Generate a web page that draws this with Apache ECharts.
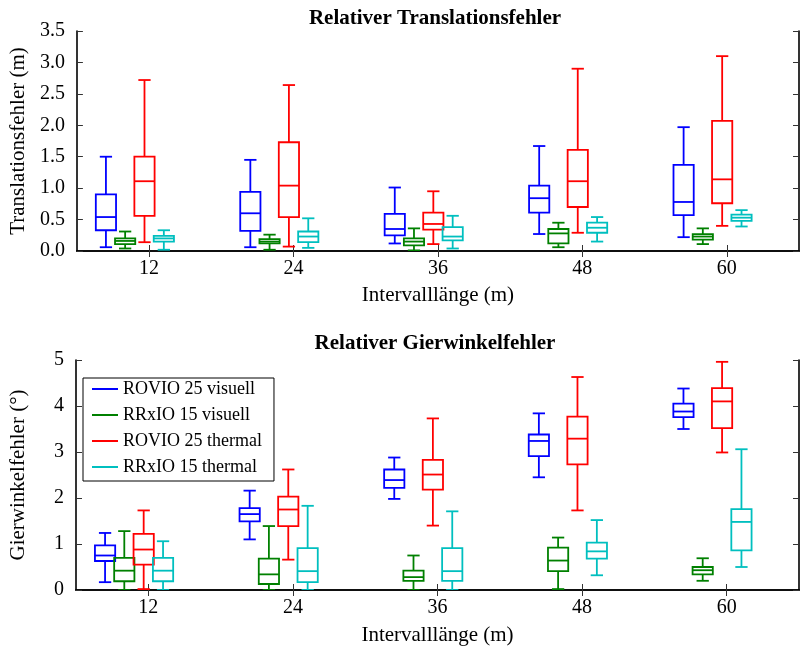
<!DOCTYPE html>
<html>
<head>
<meta charset="utf-8">
<script src="https://cdn.jsdelivr.net/npm/echarts@6/dist/echarts.min.js"></script>
<style>
html,body{margin:0;padding:0;background:#fff;}
#chart{width:801px;height:647px;}
</style>
</head>
<body>
<div id="chart"></div>
<script>
// ---- Data ----
const categories = ['12', '24', '36', '48', '60'];
const seriesNames = ['ROVIO 25 visuell', 'RRxIO 15 visuell', 'ROVIO 25 thermal', 'RRxIO 15 thermal'];
const seriesColors = ['#0000ff', '#008000', '#ff0000', '#00bfbf'];
const titleTop = 'Relativer Translationsfehler';
const titleBottom = 'Relativer Gierwinkelfehler';
const xAxisName = 'Intervalllänge (m)';
const yNameTop = 'Translationsfehler (m)';
const yNameBottom = 'Gierwinkelfehler (°)';

// [min, q1, median, q3, max] per category
const transRovioVis = [[0.06,0.33,0.54,0.90,1.50],[0.06,0.32,0.60,0.94,1.45],[0.12,0.25,0.35,0.59,1.01],[0.27,0.61,0.84,1.04,1.67],[0.22,0.57,0.78,1.37,1.97]];
const transRrxioVis = [[0.04,0.11,0.16,0.20,0.31],[0.02,0.12,0.15,0.19,0.26],[0.01,0.09,0.15,0.20,0.36],[0.06,0.12,0.28,0.35,0.45],[0.11,0.18,0.23,0.27,0.36]];
const transRovioTh = [[0.14,0.56,1.11,1.50,2.72],[0.07,0.54,1.04,1.73,2.64],[0.11,0.34,0.43,0.61,0.95],[0.29,0.70,1.11,1.61,2.90],[0.40,0.76,1.14,2.07,3.10]];
const transRrxioTh = [[0.02,0.15,0.20,0.24,0.33],[0.05,0.14,0.23,0.31,0.52],[0.04,0.17,0.23,0.38,0.56],[0.15,0.29,0.37,0.45,0.54],[0.39,0.48,0.53,0.58,0.65]];

const yawRovioVis = [[0.17,0.63,0.75,0.97,1.24],[1.10,1.49,1.65,1.78,2.16],[1.98,2.22,2.39,2.62,2.88],[2.45,2.91,3.24,3.38,3.84],[3.50,3.76,3.88,4.05,4.38]];
const yawRrxioVis = [[0.00,0.19,0.42,0.70,1.28],[0.00,0.13,0.34,0.68,1.39],[0.00,0.20,0.28,0.42,0.75],[0.02,0.41,0.64,0.92,1.14],[0.20,0.34,0.43,0.50,0.69]];
const yawRovioTh = [[0.02,0.55,0.88,1.22,1.73],[0.66,1.39,1.75,2.03,2.62],[1.40,2.18,2.51,2.83,3.73],[1.73,2.73,3.29,3.77,4.63],[2.99,3.52,4.10,4.39,4.96]];
const yawRrxioTh = [[0.00,0.19,0.42,0.70,1.06],[0.00,0.17,0.41,0.91,1.83],[0.00,0.20,0.41,0.91,1.71],[0.32,0.68,0.84,1.03,1.52],[0.50,0.86,1.48,1.76,3.06]];

const topTicks = { min: 0, max: 3.5, interval: 0.5 };
const bottomTicks = { min: 0, max: 5, interval: 1 };

// ---- Styling ----
const FONT = 'Liberation Serif';
const offsets = [-0.299, -0.166, -0.032, 0.102]; // fraction of band width
const boxFrac = 0.14;
const capFrac = 0.085;
const LW = 1.8;

function makeRender(offsetFrac, color) {
  return function (params, api) {
    const cat = api.value(0);
    const band = api.size([1, 0])[0];
    const cx = api.coord([cat, 0])[0] + offsetFrac * band;
    const yMin = api.coord([cat, api.value(1)])[1];
    const yQ1 = api.coord([cat, api.value(2)])[1];
    const yMed = api.coord([cat, api.value(3)])[1];
    const yQ3 = api.coord([cat, api.value(4)])[1];
    const yMax = api.coord([cat, api.value(5)])[1];
    const hw = boxFrac * band / 2;
    const cw = capFrac * band / 2;
    const st = { stroke: color, lineWidth: LW, fill: null };
    return {
      type: 'group',
      children: [
        { type: 'line', shape: { x1: cx, y1: yQ3, x2: cx, y2: yMax }, style: st },
        { type: 'line', shape: { x1: cx, y1: yQ1, x2: cx, y2: yMin }, style: st },
        { type: 'line', shape: { x1: cx - cw, y1: yMax, x2: cx + cw, y2: yMax }, style: st },
        { type: 'line', shape: { x1: cx - cw, y1: yMin, x2: cx + cw, y2: yMin }, style: st },
        { type: 'rect', shape: { x: cx - hw, y: yQ3, width: 2 * hw, height: yQ1 - yQ3 }, style: { stroke: color, lineWidth: LW, fill: 'rgba(255,255,255,0)' } },
        { type: 'line', shape: { x1: cx - hw, y1: yMed, x2: cx + hw, y2: yMed }, style: st }
      ]
    };
  };
}

function toData(arr) {
  return arr.map((v, i) => [i].concat(v));
}

const axisLineStyle = { show: true, lineStyle: { color: '#000', width: 1.6 } };
const tickStyle = { show: true, inside: true, length: 6, lineStyle: { color: '#333', width: 1 } };
const labelFont = { fontFamily: FONT, fontSize: 20, color: '#000' };
const nameFont = { fontFamily: FONT, fontSize: 21, color: '#000' };

function xAxesFor(gridIndex, gap) {
  return [
    {
      type: 'category', gridIndex, data: categories, position: 'bottom',
      boundaryGap: true,
      axisLine: axisLineStyle,
      axisTick: Object.assign({ alignWithLabel: true }, tickStyle),
      axisLabel: Object.assign({ margin: 8 }, labelFont),
      name: xAxisName, nameLocation: 'middle', nameGap: gap, nameTextStyle: nameFont,
      splitLine: { show: false }
    },
    {
      type: 'category', gridIndex, data: categories, position: 'top',
      boundaryGap: true,
      axisLine: axisLineStyle,
      axisTick: Object.assign({ alignWithLabel: true }, tickStyle),
      axisLabel: { show: false },
      splitLine: { show: false }
    }
  ];
}

function yAxesFor(gridIndex, ticks, name, digits) {
  return [
    {
      type: 'value', gridIndex, position: 'left',
      min: ticks.min, max: ticks.max, interval: ticks.interval,
      axisLine: axisLineStyle,
      axisTick: tickStyle,
      axisLabel: Object.assign({ margin: 12, formatter: v => v.toFixed(digits) }, labelFont),
      splitLine: { show: false },
      name, nameLocation: 'middle', nameGap: 47, nameRotate: 90, nameTextStyle: nameFont
    },
    {
      type: 'value', gridIndex, position: 'right',
      min: ticks.min, max: ticks.max, interval: ticks.interval,
      axisLine: axisLineStyle,
      axisTick: tickStyle,
      axisLabel: { show: false },
      splitLine: { show: false }
    }
  ];
}

const topSets = [transRovioVis, transRrxioVis, transRovioTh, transRrxioTh];
const bottomSets = [yawRovioVis, yawRrxioVis, yawRovioTh, yawRrxioTh];

const series = [];
topSets.forEach((d, i) => {
  series.push({
    type: 'custom', name: seriesNames[i], xAxisIndex: 0, yAxisIndex: 0,
    itemStyle: { color: seriesColors[i] },
    renderItem: makeRender(offsets[i], seriesColors[i]),
    encode: { x: 0, y: [1, 2, 3, 4, 5] },
    data: toData(d), clip: true, silent: true
  });
});
bottomSets.forEach((d, i) => {
  series.push({
    type: 'custom', name: seriesNames[i], xAxisIndex: 2, yAxisIndex: 2,
    itemStyle: { color: seriesColors[i] },
    renderItem: makeRender(offsets[i], seriesColors[i]),
    encode: { x: 0, y: [1, 2, 3, 4, 5] },
    data: toData(d), clip: true, silent: true
  });
});

const option = {
  animation: false,
  backgroundColor: '#fff',
  title: [
    { text: titleTop, left: 430, top: 3, textAlign: 'center',
      textStyle: { fontFamily: FONT, fontSize: 21, fontWeight: 'bold', color: '#000' } },
    { text: titleBottom, left: 430, top: 328, textAlign: 'center',
      textStyle: { fontFamily: FONT, fontSize: 21, fontWeight: 'bold', color: '#000' } }
  ],
  grid: [
    { left: 73, top: 31, width: 726, height: 220 },
    { left: 73, top: 360, width: 726, height: 230 }
  ],
  xAxis: xAxesFor(0, 34).concat(xAxesFor(1, 35)),
  yAxis: yAxesFor(0, topTicks, yNameTop, 1).concat(yAxesFor(1, bottomTicks, yNameBottom, 0)),
  legend: {
    orient: 'vertical', left: 83, top: 378,
    selectedMode: false,
    backgroundColor: '#fff',
    borderColor: '#000', borderWidth: 1,
    padding: [1, 12, 4, 9],
    itemGap: 6,
    itemWidth: 26, itemHeight: 2,
    textStyle: { fontFamily: FONT, fontSize: 18, color: '#000', lineHeight: 20 },
    data: seriesNames.map((n, i) => ({ name: n, icon: 'rect', itemStyle: { color: seriesColors[i] } }))
  },
  series
};

const chart = echarts.init(document.getElementById('chart'), null, { renderer: 'canvas' });
chart.setOption(option);
</script>
</body>
</html>
